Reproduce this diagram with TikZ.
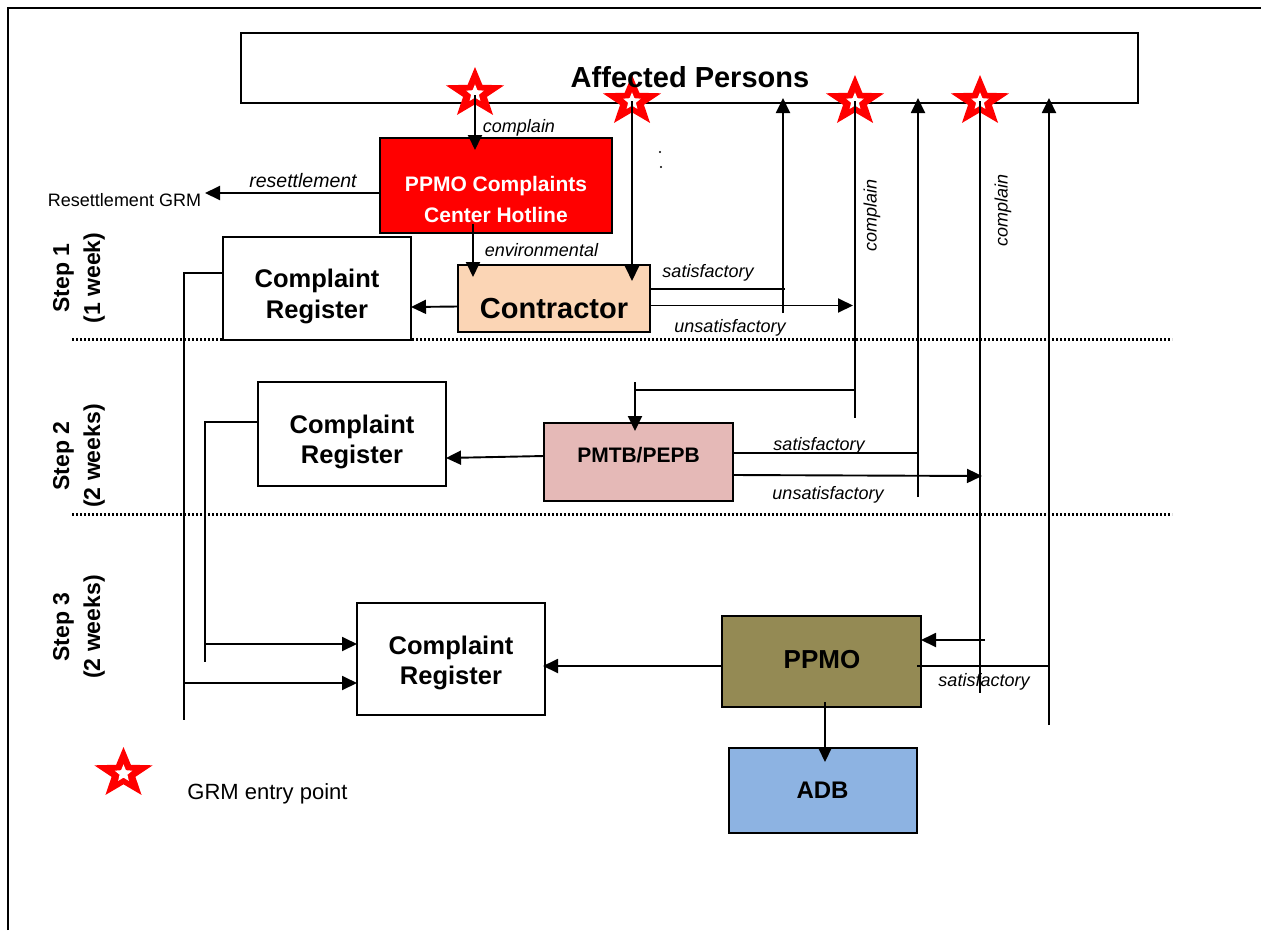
\documentclass[tikz,border=0pt]{standalone}
\usepackage{fontspec}
\setmainfont{Liberation Sans}
\usetikzlibrary{arrows.meta}
\definecolor{hotred}{RGB}{255,0,0}
\definecolor{peach}{RGB}{251,213,181}
\definecolor{pinkbox}{RGB}{229,185,183}
\definecolor{olive}{RGB}{148,138,84}
\definecolor{adbblue}{RGB}{141,179,226}
\begin{document}
\begin{tikzpicture}[x=1pt,y=-1pt,
  box/.style={draw=black, line width=2pt, inner sep=0pt, outer sep=0pt},
  conn/.style={line width=1.9pt},
  arr/.style={conn, -{Triangle[length=15pt,width=14pt]}},
  lbl/.style={font=\fontsize{18}{20}\selectfont\itshape, inner sep=0pt, anchor=base},
  crtext/.style={font=\fontsize{25.5}{31}\selectfont\bfseries, align=center, inner sep=0pt},
  steptext/.style={font=\fontsize{23}{31}\selectfont\bfseries, align=center, inner sep=0pt, rotate=90},
  sepline/.style={line width=2.5pt, dash pattern=on 2pt off 2pt},
  grmstar/.pic={
    \fill[hotred, xscale=1.16] (270:26.5) \foreach \i in {1,...,9}{ -- ({270+36*\i}:{ifthenelse(mod(\i,2)==1,10.8,26.5)}) } -- cycle;
    \fill[white] (270:9.2) \foreach \i in {1,...,9}{ -- ({270+36*\i}:{ifthenelse(mod(\i,2)==1,4.1,9.2)}) } -- cycle;
  }
]
\useasboundingbox (0,0) rectangle (1261,930);

% outer frame
\draw[line width=2.5pt] (8,930) -- (8,8) -- (1261,8);

% separators
\draw[sepline] (72,339.5) -- (1172,339.5);
\draw[sepline] (72,514.5) -- (1172,514.5);

% boxes
\node[box, fill=white, minimum width=897pt, minimum height=70pt] (ap) at (689.5,68) {};
\node[box, fill=hotred, minimum width=232pt, minimum height=95pt] (hot) at (496,185.5) {};
\node[box, fill=peach, minimum width=192pt, minimum height=67pt] (con) at (554,298.5) {};
\node[box, fill=white, minimum width=188pt, minimum height=103pt] (cr1) at (317,288.5) {};
\node[box, fill=white, minimum width=188pt, minimum height=104pt] (cr2) at (352,434) {};
\node[box, fill=pinkbox, minimum width=189pt, minimum height=78pt] (pmtb) at (638.5,462) {};
\node[box, fill=white, minimum width=188pt, minimum height=112pt] (cr3) at (451,659) {};
\node[box, fill=olive, minimum width=199pt, minimum height=91pt] (ppmo) at (821.5,661.5) {};
\node[box, fill=adbblue, minimum width=188pt, minimum height=85pt] (adb) at (823,790.5) {};

% stars
\pic at (475,93.5) {grmstar};
\pic at (632,101.5) {grmstar};
\pic at (855,101.5) {grmstar};
\pic at (980,101.5) {grmstar};
\pic at (123.5,773.5) {grmstar};

% named free ends
\coordinate (s1) at (475,95);
\coordinate (s2) at (632,101);
\coordinate (s3) at (855,101);
\coordinate (s4) at (980,101);
\coordinate (rgrm) at (205,193);

% connectors step 1
\draw[arr, shorten >=-12pt] (s1) -- (s1 |- hot.north);
\draw[arr] (hot.west |- 0,193) -- (rgrm);
\draw[arr, shorten >=-12pt] (473,224) -- (473,0 |- con.north);
\draw[arr, shorten >=-16pt] (s2) -- (s2 |- con.north);
\draw[arr] (con.west |- 0,306.5) -- (cr1.east |- 0,307);
\draw[conn] (con.east |- 0,289) -- (785,289);
\draw[arr, shorten >=-5pt] (783,313) -- (783,0 |- ap.south);
\draw[arr] (con.east |- 0,305.5) -- (853,305.5);
\draw[conn] (s3) -- (855,418);

% step 2
\draw[conn] (855,390) -- (635,390);
\draw[arr, shorten >=-8pt] (635,382) -- (635,0 |- pmtb.north);
\draw[arr] (pmtb.west |- 0,456) -- (cr2.east |- 0,458);
\draw[conn] (pmtb.east |- 0,453) -- (918,453);
\draw[arr, shorten >=-5pt] (918,497) -- (918,0 |- ap.south);
\draw[arr] (pmtb.east |- 0,475) -- (982,476);
\draw[conn] (s4) -- (980,693);

% step 3
\draw[arr] (985,640) -- (ppmo.east |- 0,640);
\draw[conn] (917,666) -- (1049,666);
\draw[arr, shorten >=-5pt] (1049,725) -- (1049,0 |- ap.south);
\draw[arr, shorten >=-2pt] (ppmo.west |- 0,666) -- (cr3.east |- 0,666);
\draw[arr, shorten >=-14pt] (825,702) -- (825,0 |- adb.north);

% left feedback lines
\draw[conn] (cr1.west |- 0,273) -- (184,273) -- (184,720);
\draw[arr] (184,683) -- (cr3.west |- 0,683);
\draw[conn] (cr2.west |- 0,422) -- (205,422) -- (205,662);
\draw[arr] (205,644) -- (cr3.west |- 0,644);

% tiny dots
\fill (660,152) circle (1.1pt);
\fill (661,167) circle (1.1pt);

% box texts
\node[font=\fontsize{29}{31}\selectfont\bfseries, inner sep=0pt, anchor=base] (tap) at (690,87) {Affected Persons};
\node[font=\fontsize{21}{31}\selectfont\bfseries, text=white, align=center, inner sep=0pt] (thot) at (496,199) {PPMO Complaints\\Center Hotline};
\node[font=\fontsize{29}{31}\selectfont\bfseries, inner sep=0pt, anchor=base] (tcon) at (554,318) {Contractor};
\node[crtext] (tcr1) at (317,296) {Complaint\\Register};
\node[crtext, font=\fontsize{25.5}{30}\selectfont\bfseries] (tcr2) at (352,441.5) {Complaint\\Register};
\node[crtext, font=\fontsize{25.5}{30}\selectfont\bfseries] (tcr3) at (451,662.5) {Complaint\\Register};
\node[font=\fontsize{21}{24}\selectfont\bfseries, inner sep=0pt, anchor=base] (tpmtb) at (638.5,462) {PMTB/PEPB};
\node[font=\fontsize{26}{28}\selectfont\bfseries, inner sep=0pt, anchor=base] (tppmo) at (822,668) {PPMO};
\node[font=\fontsize{24}{28}\selectfont\bfseries, inner sep=0pt, anchor=base] (tadb) at (822.5,798) {ADB};

% labels
\node[lbl] (l1) at (519,132) {complain};
\node[lbl] (l2) at (541.5,256) {environmental};
\node[lbl, font=\fontsize{19.5}{20}\selectfont\itshape] (l3) at (303,187) {resettlement};
\node[font=\fontsize{18}{20}\selectfont, inner sep=0pt, anchor=base] (l4) at (124.5,206) {Resettlement GRM};
\node[lbl] (l5) at (708,277) {satisfactory};
\node[lbl] (l6) at (730,332) {unsatisfactory};
\node[lbl] (l7) at (819,450) {satisfactory};
\node[lbl] (l8) at (828,499) {unsatisfactory};
\node[lbl] (l9) at (984,686) {satisfactory};
\node[font=\fontsize{18}{20}\selectfont\itshape, inner sep=0pt, rotate=90] (l10) at (872,215) {complain};
\node[font=\fontsize{18}{20}\selectfont\itshape, inner sep=0pt, rotate=90] (l11) at (1003,210) {complain};
\node[font=\fontsize{22}{24}\selectfont, inner sep=0pt, anchor=base] (l12) at (267.5,799) {GRM entry point};

% step labels
\node[steptext] (st1) at (79,278) {Step 1\\(1 week)};
\node[steptext] (st2) at (79,456) {Step 2\\(2 weeks)};
\node[steptext] (st3) at (79,627) {Step 3\\(2 weeks)};
\end{tikzpicture}
\end{document}
